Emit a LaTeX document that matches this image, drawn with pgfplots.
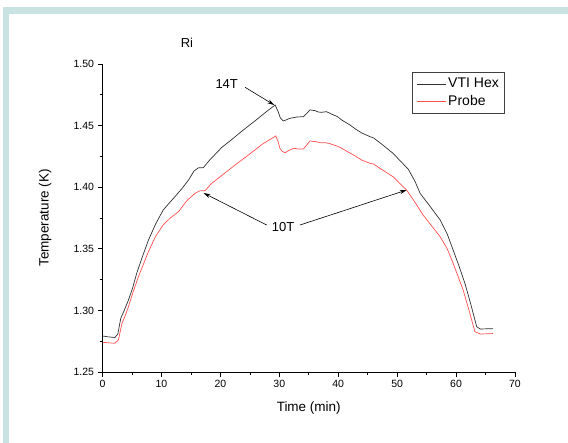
\documentclass[border=0pt]{standalone}
\usepackage{fontspec}
\setmainfont{Liberation Sans}
\usepackage{pgfplots}
\pgfplotsset{compat=1.18}
\usetikzlibrary{arrows.meta}
\definecolor{framec}{HTML}{C8E3E1}
\definecolor{probe}{HTML}{FF5050}
\definecolor{vti}{HTML}{303030}
\begin{document}
\begin{tikzpicture}
\fill[white] (0pt,0pt) rectangle (568pt,443pt);
\fill[framec] (3pt,429pt) rectangle (568pt,436pt);
\fill[framec] (3pt,0pt) rectangle (9pt,436pt);
\node[font=\fontsize{13}{15}\selectfont] at (187pt,400pt) {Ri};
\begin{axis}[
  at={(102.5pt,71pt)}, anchor=south west,
  scale only axis, width=412.5pt, height=308pt,
  xmin=0, xmax=70, ymin=1.25, ymax=1.50,
  axis x line*=bottom, axis y line*=left,
  axis line style={black, line width=0.6pt},
  xtick={0,10,...,70}, ytick={1.25,1.30,1.35,1.40,1.45,1.50},
  minor x tick num=1, minor y tick num=1,
  tick align=outside, major tick length=5pt, minor tick length=3pt,
  tick style={black, line width=0.6pt},
  /pgf/number format/assume math mode=true,
  yticklabel style={/pgf/number format/.cd, fixed, fixed zerofill, precision=2},
  tick label style={font=\fontsize{10.5}{12}\selectfont},
  xlabel={Time (min)}, ylabel={Temperature (K)},
  label style={font=\fontsize{13.5}{15}\selectfont},
  xlabel style={at={(axis description cs:0.5,-0.117)}, anchor=center},
  ylabel style={at={(axis description cs:-0.139,0.5)}, anchor=center},
  legend style={at={(rel axis cs:0.976,0.974)}, anchor=north east,
    draw=black!75, line width=0.6pt, font=\fontsize{14}{16}\selectfont,
    inner xsep=4pt, inner ysep=4pt, cells={anchor=west}, row sep=2pt},
  legend image code/.code={\draw[#1] (0pt,0pt) -- (29pt,0pt);},
]
\addplot[vti, line width=0.7pt] coordinates {
(0,1.2792)(1,1.2785)(2.1,1.2780)(2.6,1.2808)(3.1,1.2936)(3.6,1.2990)(4.4,1.3084)(5.1,1.3180)(5.8,1.3301)(6.8,1.3440)(7.8,1.3571)(9,1.3700)(10.3,1.3815)(11.3,1.3870)(12.3,1.3923)(13.5,1.3990)(14.6,1.4058)(15.5,1.4130)(16.3,1.4158)(17.1,1.4158)(18.2,1.4221)(20.2,1.4321)(22,1.4390)(24,1.4468)(26,1.4543)(28,1.4620)(29.3,1.4667)(29.8,1.4613)(30.2,1.4560)(30.7,1.4537)(31.8,1.4559)(33,1.4570)(34.1,1.4572)(34.7,1.4600)(35.2,1.4627)(36.1,1.4621)(36.6,1.4610)(37.2,1.4608)(38.0,1.4613)(38.6,1.4600)(39.2,1.4586)(39.8,1.4575)(40.6,1.4545)(41.3,1.4525)(42.0,1.4505)(43.0,1.4470)(44,1.4440)(45.4,1.4410)(46.0,1.4400)(47.5,1.4345)(49.3,1.4275)(50.6,1.4210)(51.9,1.4145)(53.0,1.4050)(53.9,1.3950)(55.5,1.3850)(57.3,1.3734)(58.5,1.3620)(59.5,1.3490)(60.5,1.3360)(61.5,1.3220)(62.5,1.3050)(63.5,1.2868)(64.1,1.2849)(66.3,1.2852)
};
\addlegendentry{VTI Hex}
\addplot[probe, line width=0.7pt] coordinates {
(0,1.2741)(1,1.2737)(2.1,1.2733)(2.7,1.2760)(3.3,1.2895)(3.8,1.2950)(4.4,1.3030)(5.2,1.3150)(6.1,1.3274)(7.8,1.3477)(9,1.3600)(10.3,1.3693)(11.5,1.3750)(12.9,1.3801)(14.3,1.3890)(15.7,1.3950)(16.5,1.3970)(17.4,1.3972)(18.5,1.4030)(20.5,1.4105)(22.5,1.4180)(25,1.4270)(27,1.4345)(29.4,1.4416)(29.8,1.4370)(30.1,1.4316)(30.5,1.4290)(31.0,1.4280)(31.7,1.4300)(32.4,1.4316)(33.3,1.4310)(34.1,1.4310)(34.7,1.4345)(35.2,1.4375)(36.3,1.4369)(37.0,1.4360)(37.8,1.4361)(38.5,1.4355)(39.2,1.4343)(40,1.4330)(40.6,1.4316)(41.5,1.4290)(42.6,1.4261)(44,1.4220)(45.4,1.4194)(46.0,1.4188)(47.5,1.4140)(49.3,1.4085)(51.6,1.3977)(53,1.3880)(54.4,1.3774)(57.3,1.3598)(58.5,1.3500)(59.5,1.3382)(61.2,1.3166)(62.2,1.3000)(63.2,1.2827)(64.1,1.2808)(66.3,1.2812)
};
\addlegendentry{Probe}
\node[font=\fontsize{13}{15}\selectfont] at (axis cs:21.08,1.4835) {14T};
\draw[-{Stealth[length=7pt,width=4pt]}, line width=0.6pt] (axis cs:24.18,1.4811) -- (axis cs:29.15,1.4667);
\node[font=\fontsize{13}{15}\selectfont] at (axis cs:30.63,1.3677) {10T};
\draw[-{Stealth[length=7pt,width=4pt]}, line width=0.6pt] (axis cs:27.86,1.3693) -- (axis cs:17.14,1.3953);
\draw[-{Stealth[length=7pt,width=4pt]}, line width=0.6pt] (axis cs:33.51,1.3693) -- (axis cs:51.62,1.3977);
\end{axis}
\end{tikzpicture}
\end{document}
